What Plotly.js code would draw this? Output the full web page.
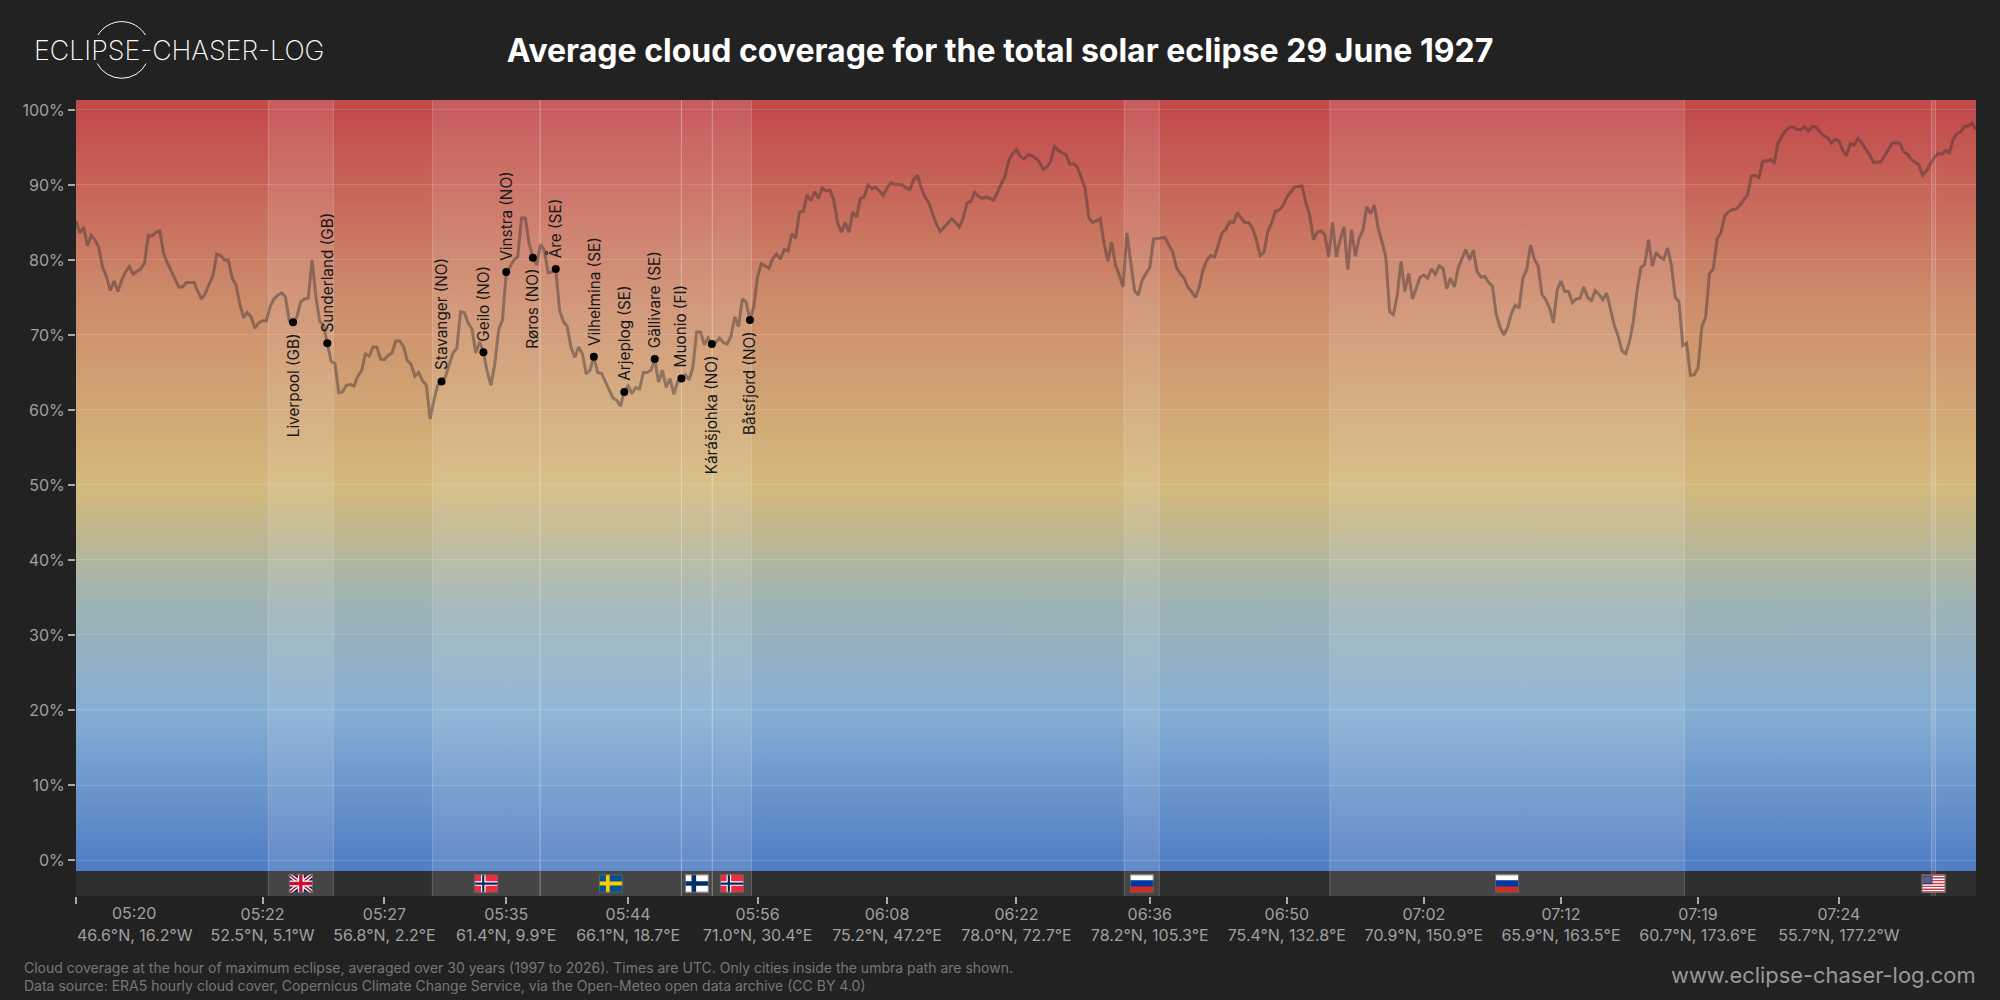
<!DOCTYPE html>
<html><head><meta charset="utf-8">
<script src="https://cdn.plot.ly/plotly-3.0.1.min.js"></script>
<style>html,body{margin:0;padding:0;background:#222222}</style></head>
<body><div id="chart" style="width:2000px;height:1000px"></div>
<script>
const cloudPct = [
85.2,83.6,84.4,81.9,83.3,82.7,81.6,79.0,77.8,75.9,77.2,75.8,77.3,78.4,79.1,78.1,78.5,78.8,79.6,83.3,
83.2,83.7,83.9,80.9,79.6,78.6,77.6,76.4,76.4,77.0,77.0,77.0,75.8,74.8,75.6,76.7,78.0,80.8,80.6,80.0,
80.0,77.6,76.7,74.2,72.3,73.0,72.4,70.9,71.6,71.9,71.9,73.8,74.8,75.3,75.6,75.1,71.9,71.6,72.4,74.4,
74.8,74.9,80.0,75.1,71.8,71.3,68.9,66.5,66.2,62.3,62.4,63.3,63.4,63.2,64.5,65.2,67.5,67.2,68.4,68.4,
66.8,66.7,67.3,67.6,69.2,69.2,68.5,66.6,66.1,64.5,65.0,63.9,63.3,58.8,61.3,63.3,63.8,64.4,66.0,67.6,
68.2,73.1,73.0,71.6,70.8,67.6,69.1,67.7,65.1,63.3,66.2,70.7,72.0,78.3,79.1,80.0,80.4,85.6,85.6,82.2,
80.4,79.3,82.1,81.3,78.3,78.4,78.8,73.3,71.8,71.1,68.4,67.0,68.4,67.5,64.8,65.3,67.1,65.0,64.9,63.8,
62.6,61.6,61.3,60.5,62.5,63.2,62.2,63.0,62.8,65.0,65.0,65.3,66.7,63.7,65.3,63.0,64.2,62.1,63.8,64.1,
64.7,64.0,65.6,70.4,70.4,68.7,69.6,68.8,69.0,69.6,69.0,68.8,69.8,72.4,71.1,74.8,74.4,72.0,73.8,77.8,
79.5,79.2,78.9,80.2,80.8,80.1,81.4,81.2,83.5,82.9,86.4,86.5,88.7,87.9,89.1,88.2,89.6,89.2,89.3,88.0,
85.0,83.7,85.0,83.7,86.4,85.7,88.2,88.4,90.0,89.5,89.7,89.2,88.6,89.6,90.3,90.1,90.0,90.0,89.6,89.4,
90.7,91.3,89.6,88.4,87.6,86.0,84.7,83.8,84.4,85.0,85.5,85.0,84.4,85.6,87.6,87.8,89.0,88.5,88.2,88.4,
88.2,88.0,89.0,90.2,91.2,93.3,94.2,94.7,93.8,93.5,94.0,93.9,93.6,93.1,92.1,92.4,93.2,95.1,94.6,94.3,
94.0,92.8,92.8,92.4,91.1,89.6,85.6,85.0,85.2,85.5,82.2,79.8,82.4,79.3,78.0,76.4,83.6,80.0,75.9,75.3,
77.3,78.2,79.0,82.8,82.9,83.0,83.0,82.0,81.1,79.0,78.2,77.6,76.4,75.8,75.0,76.4,78.7,80.0,80.6,80.4,
82.0,83.6,84.1,85.1,85.0,86.3,85.6,85.0,85.0,84.2,82.7,80.6,81.0,83.8,84.9,86.5,86.7,87.2,88.4,89.1,
89.7,89.8,89.9,87.6,86.0,82.7,83.7,83.9,83.3,80.4,85.0,80.4,82.7,84.4,78.7,84.0,80.5,82.9,84.0,87.1,
86.2,87.3,84.2,82.4,80.4,73.1,72.7,75.3,79.8,75.8,78.2,74.8,76.2,77.7,78.0,77.6,78.8,78.1,79.2,78.9,
76.2,77.6,76.4,78.9,80.2,81.4,80.0,81.3,78.4,77.7,77.8,77.0,76.5,72.7,71.0,70.0,71.0,72.9,74.0,73.6,
77.6,78.7,82.0,80.1,79.2,75.4,74.7,73.6,71.6,76.0,77.2,75.8,75.8,74.3,74.8,74.9,76.4,75.0,74.6,75.9,
75.4,74.7,75.6,73.3,71.3,69.9,67.9,67.5,69.1,71.8,76.0,79.0,79.4,82.7,79.2,81.0,80.4,80.1,81.6,79.3,
75.0,74.4,68.6,68.9,64.6,64.7,65.6,71.1,72.4,78.2,78.8,82.8,83.6,85.9,86.4,86.7,86.8,87.3,88.0,88.7,
91.2,91.3,91.0,93.2,93.2,93.4,93.0,95.6,96.5,97.2,97.7,97.7,97.4,97.4,97.8,97.2,97.8,97.7,97.1,96.6,
96.3,95.6,96.1,95.9,94.6,93.9,95.5,95.3,96.2,95.6,94.8,94.1,93.0,93.1,93.1,93.9,94.7,95.6,95.6,95.6,
94.4,94.1,93.4,93.0,92.7,91.3,91.9,92.8,93.6,94.2,94.1,94.6,94.3,96.1,96.8,97.1,97.8,97.9,98.2,97.4];
const sampleIndex = cloudPct.map((_, i) => i);

const cityNames = ["Liverpool (GB)","Sunderland (GB)","Stavanger (NO)","Geilo (NO)","Vinstra (NO)","Røros (NO)","Åre (SE)","Vilhelmina (SE)","Arjeplog (SE)","Gällivare (SE)","Muonio (FI)","Kárášjohka (NO)","Båtsfjord (NO)"];
const cityIndex = [57,66,96,107,113,120,126,136,144,152,159,167,177];
const cityPct = [71.7,68.9,63.8,67.7,78.4,80.3,78.8,67.1,62.4,66.8,64.2,68.8,72.0];
const cityLabelBelow = [true,false,false,false,false,true,false,false,false,false,false,true,true];

const timeTicks = [0,49,81,113,145,179,213,247,282,318,354,390,426,463];
const timeLabels = ["05:20","05:22","05:27","05:35","05:44","05:56","06:08","06:22","06:36","06:50","07:02","07:12","07:19","07:24"];
const coordLabels = ["46.6°N, 16.2°W","52.5°N, 5.1°W","56.8°N, 2.2°E","61.4°N, 9.9°E","66.1°N, 18.7°E","71.0°N, 30.4°E","75.2°N, 47.2°E","78.0°N, 72.7°E","78.2°N, 105.3°E","75.4°N, 132.8°E","70.9°N, 150.9°E","65.9°N, 163.5°E","60.7°N, 173.6°E","55.7°N, 177.2°W"];

const regionStart = [50.5,93.6,121.9,159.0,167.1,275.3,329.3,487.3];
const regionEnd   = [67.6,121.9,159.0,167.1,177.4,284.5,422.4,488.4];
const regionFlag  = ["GB","NO","SE","FI","NO","RU","RU","US"];

const yTicks = [0,10,20,30,40,50,60,70,80,90,100];

const svgUri = s => 'data:image/svg+xml,' + encodeURIComponent(s);
const flagBody = {
 GB:'<rect width="24" height="18" fill="#012169"/><path d="M0 0L24 18M24 0L0 18" stroke="#fff" stroke-width="4"/><path d="M0 0L24 18M24 0L0 18" stroke="#c8102e" stroke-width="1.5"/><path d="M12 0V18M0 9H24" stroke="#fff" stroke-width="6"/><path d="M12 0V18M0 9H24" stroke="#c8102e" stroke-width="3.4"/>',
 NO:'<rect width="24" height="18" fill="#ef2b3d"/><path d="M9 0V18M0 9H24" stroke="#fff" stroke-width="4.6"/><path d="M9 0V18M0 9H24" stroke="#002868" stroke-width="2.2"/>',
 SE:'<rect width="24" height="18" fill="#005293"/><path d="M9 0V18M0 9H24" stroke="#fecb00" stroke-width="3.8"/>',
 FI:'<rect width="24" height="18" fill="#fff"/><path d="M9 0V18M0 9H24" stroke="#002f6c" stroke-width="4.6"/>',
 RU:'<rect width="24" height="6" fill="#fff"/><rect y="6" width="24" height="6" fill="#0039a6"/><rect y="12" width="24" height="6" fill="#d52b1e"/>',
 US:'<rect width="24" height="18" fill="#fff"/><path d="M0 .7H24M0 3.4H24M0 6.2H24M0 9H24M0 11.8H24M0 14.6H24M0 17.3H24" stroke="#c8374a" stroke-width="1.4"/><rect width="11" height="9.7" fill="#3c3b6e"/><path d="M1 1.5H10M1 3.5H10M1 5.5H10M1 7.5H10" stroke="#b8b8d0" stroke-width="1" stroke-dasharray="1 1"/>'
};
const flagUri = c => svgUri('<svg xmlns="http://www.w3.org/2000/svg" width="24" height="18" viewBox="0 0 24 18" preserveAspectRatio="none">'+flagBody[c]+'<rect x=".5" y=".5" width="23" height="17" fill="none" stroke="#666" stroke-width="1"/></svg>');

const gradientStops = [[0,'#c24a4b'],[1.3,'#c24a4b'],[25.6,'#cd8b6b'],[50,'#d4b97c'],[56,'#bfb78e'],[65,'#9fb3b3'],[79,'#86afd3'],[100,'#4f7cc4']];
const gradientUri = svgUri('<svg xmlns="http://www.w3.org/2000/svg" width="10" height="771" viewBox="0 0 10 771" preserveAspectRatio="none"><defs><linearGradient id="g" x1="0" y1="0" x2="0" y2="1">'
  + gradientStops.map(s=>'<stop offset="'+s[0]+'%" stop-color="'+s[1]+'"/>').join('') + '</linearGradient></defs><rect width="10" height="771" fill="url(#g)"/></svg>');
const logoUri = svgUri('<svg xmlns="http://www.w3.org/2000/svg" width="60" height="60" viewBox="0 0 60 60"><path d="M6.3 15A27.7 27.7 0 0 1 53.7 15M5.5 43.5A27.7 27.7 0 0 0 54.5 43.5" fill="none" stroke="#fff" stroke-width="1"/></svg>');

const W=2000,H=1000,ML=76,MR=24,MT=100,MB=104, PW=W-ML-MR, PH=H-MT-MB;
const YMIN=-4.8, YMAX=101.33, BAND_TOP=-1.47;
const px=x=>(x-ML)/PW, py=y=>1-(y-MT)/PH;
const FONT='Inter, "Noto Sans", sans-serif';

const traces=[
 {type:'scatter',mode:'lines',x:sampleIndex,y:cloudPct,line:{color:'rgba(60,50,50,0.45)',width:3},hoverinfo:'skip',showlegend:false},
 {type:'scatter',mode:'markers',x:cityIndex,y:cityPct,marker:{color:'#000',size:8},hoverinfo:'skip',showlegend:false}
];

const shapes=[{type:'rect',layer:'between',xref:'paper',yref:'y',x0:0,x1:1,y0:YMIN,y1:BAND_TOP,fillcolor:'#2f2f2f',line:{width:0}}];
regionStart.forEach((s,i)=>{
  shapes.push({type:'rect',layer:'between',xref:'x',yref:'paper',x0:s,x1:regionEnd[i],y0:0,y1:1,fillcolor:'rgba(255,255,255,0.11)',line:{width:0}});
  [s,regionEnd[i]].forEach(v=>shapes.push({type:'line',layer:'between',xref:'x',yref:'paper',x0:v,x1:v,y0:0,y1:1,line:{color:'rgba(255,255,255,0.2)',width:1}}));
});

const images=[
 {source:gradientUri,xref:'paper',yref:'paper',x:0,y:1,sizex:1,sizey:771/PH,xanchor:'left',yanchor:'top',sizing:'stretch',layer:'below'},
 {source:logoUri,xref:'paper',yref:'paper',x:px(91.7),y:py(20),sizex:60/PW,sizey:60/PH,xanchor:'left',yanchor:'top',sizing:'stretch',layer:'above'}
];
regionStart.forEach((s,i)=>images.push({source:flagUri(regionFlag[i]),xref:'x',yref:'y',x:(s+regionEnd[i])/2,y:(YMIN+BAND_TOP)/2,sizex:24/(PW/499),sizey:18.4/7.5,xanchor:'center',yanchor:'middle',sizing:'stretch',layer:'above'}));

const annotations=cityNames.map((n,i)=>({
  text:n,xref:'x',yref:'y',x:cityIndex[i],y:cityPct[i],showarrow:false,textangle:-90,
  xanchor:'center',xshift:0,yanchor:cityLabelBelow[i]?'top':'bottom',yshift:cityLabelBelow[i]?-9:9,
  font:{family:FONT,size:15.3,color:'#181818',weight:400}
}));
annotations.push(
 {text:timeLabels[0]+'',xref:'paper',yref:'paper',x:px(133.5),y:py(913),xanchor:'center',yanchor:'middle',showarrow:false,font:{family:FONT,size:16,color:'#a0a0a0'}},
 {text:coordLabels[0],xref:'paper',yref:'paper',x:px(76),y:py(935),xanchor:'left',yanchor:'middle',xshift:-1,showarrow:false,font:{family:FONT,size:16,color:'#a0a0a0'}},
 {text:'Cloud coverage at the hour of maximum eclipse, averaged over 30 years (1997 to 2026). Times are UTC. Only cities inside the umbra path are shown.',xref:'paper',yref:'paper',x:px(22),y:py(967),xanchor:'left',yanchor:'middle',showarrow:false,font:{family:FONT,size:14,color:'#777'}},
 {text:'Data source: ERA5 hourly cloud cover, Copernicus Climate Change Service, via the Open-Meteo open data archive (CC BY 4.0)',xref:'paper',yref:'paper',x:px(22),y:py(985),xanchor:'left',yanchor:'middle',showarrow:false,font:{family:FONT,size:14,color:'#777'}},
 {text:'www.eclipse-chaser-log.com',xref:'paper',yref:'paper',x:1,xshift:2,y:py(975),xanchor:'right',yanchor:'middle',showarrow:false,font:{family:FONT,size:21.9,color:'#999'}},
 {text:'ECLIPSE-CHASER-LOG',xref:'paper',yref:'paper',x:px(31.5),y:py(50),xanchor:'left',yanchor:'middle',showarrow:false,font:{family:FONT,size:26.8,color:'#fff',weight:200}}
);

const layout={
 width:W,height:H,margin:{l:ML,r:MR,t:MT,b:MB,pad:0},
 paper_bgcolor:'#222222',plot_bgcolor:'rgba(0,0,0,0)',showlegend:false,
 title:{text:'Average cloud coverage for the total solar eclipse 29 June 1927',x:0.5,xanchor:'center',xref:'container',y:0.949,yanchor:'middle',yref:'container',font:{family:FONT,size:32,color:'#fff',weight:700}},
 font:{family:FONT},
 xaxis:{range:[0,499],tickmode:'array',tickvals:timeTicks,ticktext:timeLabels.map((t,i)=>i===0?'':t+'<br>'+coordLabels[i]),ticks:'outside',ticklen:7,tickwidth:2,tickcolor:'#aaa',showgrid:false,zeroline:false,showline:false,tickangle:0,ticklabelstandoff:-3,tickfont:{family:FONT,size:16,color:'#a0a0a0'},fixedrange:true},
 yaxis:{range:[YMIN,YMAX],tickmode:'array',tickvals:yTicks,ticktext:yTicks.map(v=>v+'%'),ticks:'outside',ticklen:7,tickwidth:2,tickcolor:'#aaa',showgrid:true,gridcolor:'rgba(255,255,255,0.14)',gridwidth:1,zeroline:false,showline:false,tickfont:{family:FONT,size:16,color:'#a0a0a0'},fixedrange:true},
 shapes,images,annotations
};
Plotly.newPlot('chart',traces,layout,{staticPlot:true,displayModeBar:false});
</script></body></html>
